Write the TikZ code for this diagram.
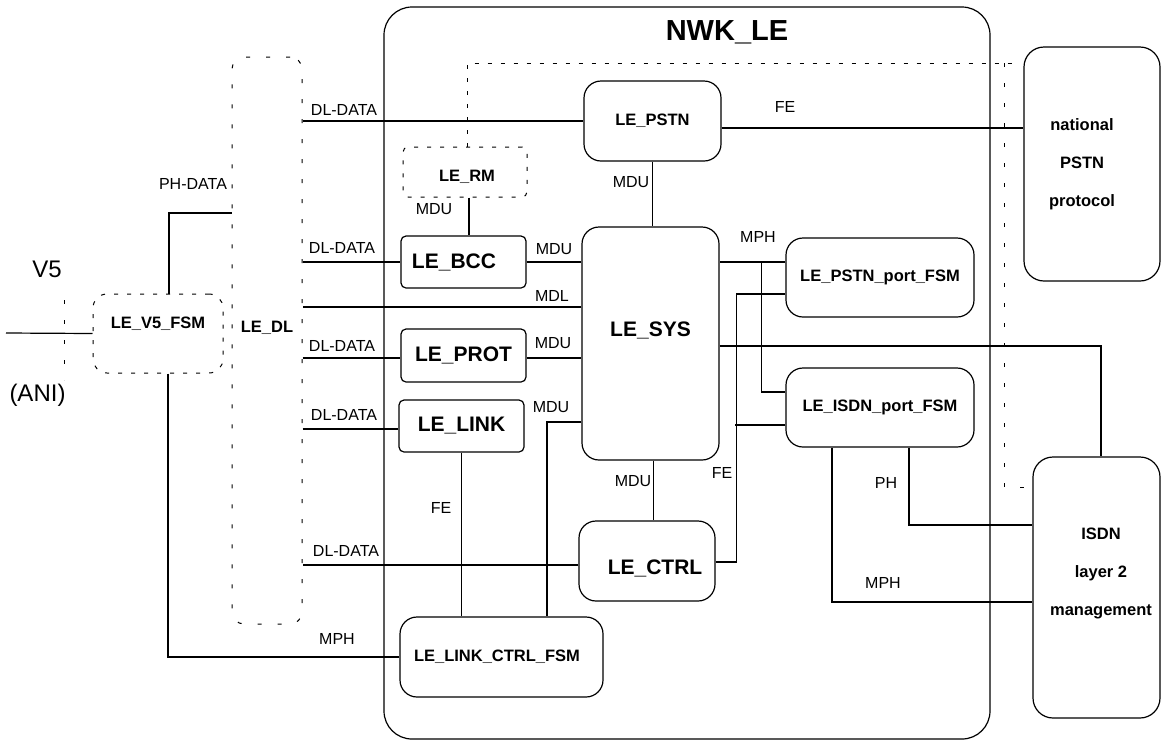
\documentclass[tikz,border=0pt]{standalone}
\usepackage{fontspec}
\setmainfont{Liberation Sans}

\begin{document}
\begin{tikzpicture}[
    x=1pt, y=-1pt, line width=1.2pt,
    btxt/.style={font=\bfseries\fontsize{16.5}{20}\selectfont},
    bigtxt/.style={font=\bfseries\fontsize{21}{25}\selectfont},
    mtxt/.style={align=center, font=\bfseries\fontsize{16.5}{38}\selectfont},
    box/.style={draw, rounded corners=17pt, inner sep=0pt, btxt},
    block/.style={box, rounded corners=5pt, bigtxt},
    dbox/.style={box, line width=1pt, dash pattern=on 4pt off 9pt},
    lab/.style={inner sep=0pt, font=\fontsize{16}{19}\selectfont},
    dline/.style={line width=1pt, dash pattern=on 4pt off 16pt}
]
\useasboundingbox (0,0) rectangle (1162,740);

% frame
\node[box, rounded corners=28pt, minimum width=606pt, minimum height=732pt] (nwk) at (687,373) {};
\node[inner sep=0pt, font=\bfseries\fontsize{29}{34}\selectfont] (title) at (727,32) {NWK\_LE};

% left side
\node[dbox, rounded corners=12pt, dash pattern=on 4pt off 16pt, minimum width=70pt, minimum height=567pt,
    label={[btxt, yshift=13pt]center:LE\_DL}] (dl) at (267,340.5) {};
\node[dbox, rounded corners=14pt, minimum width=130pt, minimum height=79pt,
    label={[btxt, yshift=10pt]center:LE\_V5\_FSM}] (v5fsm) at (158,333.5) {};
\node[lab, font=\fontsize{24}{28}\selectfont] (v5) at (47,269) {V5};
\node[lab, font=\fontsize{24}{28}\selectfont] (ani) at (37.5,395) {(ANI)};
\coordinate (anil) at (6,333);

% boxes inside NWK_LE
\node[dbox, rounded corners=5pt, minimum width=124pt, minimum height=50pt,
    label={[btxt, xshift=2pt, yshift=-5pt]center:LE\_RM}] (rm) at (465,172) {};
\node[box, minimum width=137pt, minimum height=80pt] (pstn) at (652.5,121) {LE\_PSTN};
\node[block, minimum width=125pt, minimum height=52pt,
    label={[bigtxt, xshift=-9.5pt]center:LE\_BCC}] (bcc) at (463.5,262) {};
\node[block, minimum width=125pt, minimum height=53pt] (prot) at (463.5,355.5) {LE\_PROT};
\node[block, minimum width=125pt, minimum height=52pt] (link) at (461.5,426) {LE\_LINK};
\node[box, minimum width=137pt, minimum height=233pt,
    label={[bigtxt, yshift=13.5pt]center:LE\_SYS}] (sys) at (650.5,343.5) {};
\node[box, minimum width=136pt, minimum height=80pt,
    label={[bigtxt, xshift=8pt, yshift=-7pt]center:LE\_CTRL}] (ctrl) at (647,561) {};
\node[box, minimum width=203pt, minimum height=80pt,
    label={[btxt, xshift=-4.5pt]center:LE\_LINK\_CTRL\_FSM}] (lcfsm) at (501.5,657) {};
\node[box, minimum width=188pt, minimum height=79pt] (pstnport) at (880,277.5) {LE\_PSTN\_port\_FSM};
\node[box, minimum width=188pt, minimum height=79pt] (isdnport) at (880,407.5) {LE\_ISDN\_port\_FSM};

% right side
\node[box, rounded corners=20pt, minimum width=136pt, minimum height=234pt,
    label={[mtxt, xshift=-10pt]center:national\\PSTN\\protocol}] (natpstn) at (1092,164) {};
\node[box, rounded corners=20pt, minimum width=127pt, minimum height=261pt,
    label={[mtxt, xshift=4.5pt, yshift=14pt]center:ISDN\\layer 2\\management}] (isdn) at (1096.5,587.5) {};

% connectors
\draw (pstn.west -| dl.east) -- (pstn.west);
\draw ([yshift=-7pt]pstn.east) -- ([yshift=-7pt]pstn.east -| natpstn.west);
\draw ([xshift=4pt]rm.south) -- ([xshift=4pt]rm.south |- bcc.north);
\draw (pstn.south) -- (pstn.south |- sys.north);
\draw (bcc.west -| dl.east) -- (bcc.west);
\draw (bcc.east) -- (bcc.east -| sys.west);
\draw ([yshift=36.5pt]sys.west) -- ([yshift=36.5pt]sys.west -| dl.east);
\draw ([yshift=-2.5pt]prot.west -| dl.east) -- ([yshift=-2.5pt]prot.west);
\draw ([yshift=-2.5pt]prot.east) -- ([yshift=-2.5pt]prot.east -| sys.west);
\draw ([yshift=-3pt]link.west -| dl.east) -- ([yshift=-3pt]link.west);
\draw ([yshift=-78.5pt]sys.west) -| ([xshift=45.5pt]lcfsm.north);
\draw (link.south) -- (link.south |- lcfsm.north);
\draw ([xshift=3pt]sys.south) -- ([xshift=3pt]sys.south |- ctrl.north);
\draw ([yshift=-4pt]ctrl.west) -- ([yshift=-4pt]ctrl.west -| dl.east);
\draw ([yshift=-1pt]ctrl.east) -- ++(21,0) |- ([yshift=-16.5pt]pstnport.west);
\draw ([yshift=-17.5pt]isdnport.west) -- ++(-50,0);
\draw ([yshift=15.5pt]pstnport.west) -- ([yshift=15.5pt]pstnport.west -| sys.east);
\draw ([yshift=15.5pt]pstnport.west) ++(-24,0) |- ([yshift=15.5pt]isdnport.west);
\draw ([yshift=-2.5pt]sys.east) -| ([xshift=4.5pt]isdn.north);
\draw ([xshift=29pt]isdnport.south) |- ([yshift=62.5pt]isdn.west);
\draw ([xshift=-48pt]isdnport.south) |- ([yshift=-14.5pt]isdn.west);
\draw ([yshift=127.5pt]dl.west) -| ([xshift=11pt]v5fsm.north);
\draw ([xshift=10pt]v5fsm.south) |- (lcfsm.west);
\draw (anil) -- (v5fsm.west);

% dashed lines
\draw[dline, dash pattern=on 4pt off 9pt] ([xshift=2pt]rm.north) |- (1012,63);
\draw[dline] (1004,63) |- ([yshift=100.5pt]isdn.west);
\draw[dline] (64,300) -- (64,380);

% labels
\node[lab] (ldl1) at (344,110) {DL-DATA};
\node[lab] (lph) at (193,184) {PH-DATA};
\node[lab] (ldl2) at (342,248) {DL-DATA};
\node[lab] (ldl3) at (342,346) {DL-DATA};
\node[lab] (ldl4) at (344,415) {DL-DATA};
\node[lab] (ldl5) at (346,551) {DL-DATA};
\node[lab] (lmph1) at (337,639) {MPH};
\node[lab] (lmdu1) at (434,209) {MDU};
\node[lab] (lmdu2) at (631,182) {MDU};
\node[lab] (lmdu3) at (554,249) {MDU};
\node[lab] (lmdl) at (552,296) {MDL};
\node[lab] (lmdu4) at (553,343) {MDU};
\node[lab] (lmdu5) at (551,407) {MDU};
\node[lab] (lfe1) at (441,508) {FE};
\node[lab] (lmdu6) at (633,481) {MDU};
\node[lab] (lfe2) at (785,107) {FE};
\node[lab] (lmph2) at (758,237) {MPH};
\node[lab] (lfe3) at (722,473) {FE};
\node[lab] (lph2) at (886,483) {PH};
\node[lab] (lmph3) at (883,583) {MPH};

\end{tikzpicture}
\end{document}
